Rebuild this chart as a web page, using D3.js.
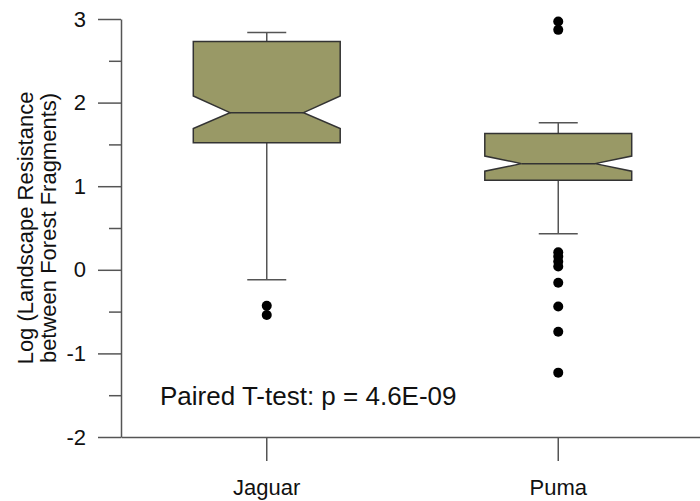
<!DOCTYPE html>
<html>
<head>
<meta charset="utf-8">
<script src="https://cdn.jsdelivr.net/npm/d3@7"></script>
<style>
html,body{margin:0;padding:0;background:#fff;}
svg{display:block;font-family:"Liberation Sans",Arial,sans-serif;}
</style>
</head>
<body>
<svg id="chart" width="700" height="501"></svg>
<script>
// ---- data ----
const categories   = ["Jaguar", "Puma"];
const whiskerHigh  = [2.84, 1.76];
const q3           = [2.73, 1.63];
const notchHigh    = [2.08, 1.36];
const median       = [1.88, 1.27];
const notchLow     = [1.69, 1.18];
const q1           = [1.52, 1.07];
const whiskerLow   = [-0.12, 0.43];
const outliersJaguar = [-0.43, -0.54];
const outliersPuma   = [2.97, 2.87, 0.21, 0.16, 0.10, 0.04, -0.155, -0.44, -0.74, -1.23];
const yTicks      = [-2, -1, 0, 1, 2, 3];
const yTickLabels = ["-2", "-1", "0", "1", "2", "3"];
const yMinorTicks = [-1.5, -0.5, 0.5, 1.5, 2.5];
const annotation  = "Paired T-test: p = 4.6E-09";
const yTitle      = ["Log (Landscape Resistance", "between Forest Fragments)"];

const outliers = [outliersJaguar, outliersPuma];

// ---- scales ----
const svg = d3.select("#chart");
const y = d3.scaleLinear().domain([-2, 3]).range([437, 19]);
const x = d3.scaleBand().domain(categories).range([121, 704]).padding(0);
const cx = c => x(c) + x.bandwidth() / 2;
const boxHalf = x.bandwidth() * 0.252;
const notchHalf = boxHalf * 0.5;
const capHalf = 19.5;

const axisColor = "#555";

// ---- axes ----
const yMinor = svg.append("g").attr("transform", "translate(121,0)")
  .call(d3.axisLeft(y).tickValues(yMinorTicks).tickSize(12).tickSizeOuter(0).tickFormat(""));
yMinor.select(".domain").remove();
yMinor.selectAll("line").attr("stroke", axisColor).attr("stroke-width", 1.5);

const yAxis = svg.append("g").attr("transform", "translate(121,0)")
  .call(d3.axisLeft(y).tickValues(yTicks).tickSize(23).tickSizeOuter(0).tickPadding(12)
    .tickFormat((d, i) => yTickLabels[i]));
yAxis.select(".domain").attr("stroke", axisColor).attr("stroke-width", 1.5);
yAxis.selectAll("line").attr("stroke", axisColor).attr("stroke-width", 1.5);
yAxis.selectAll("text").attr("font-size", 22).attr("fill", "#111")
  .attr("font-family", "Liberation Sans, Arial, sans-serif");

const xAxis = svg.append("g").attr("transform", "translate(0,437)")
  .call(d3.axisBottom(x).tickSize(24).tickSizeOuter(0).tickPadding(18));
xAxis.select(".domain").attr("stroke", axisColor).attr("stroke-width", 1.5);
xAxis.selectAll("line").attr("stroke", axisColor).attr("stroke-width", 1.5);
xAxis.selectAll("text").attr("font-size", 22).attr("fill", "#111")
  .attr("font-family", "Liberation Sans, Arial, sans-serif");

// ---- y title ----
const yt = svg.append("text")
  .attr("transform", "translate(0,228) rotate(-90)")
  .attr("text-anchor", "middle")
  .attr("font-size", 22).attr("fill", "#111");
yt.selectAll("tspan").data(yTitle).join("tspan")
  .attr("x", 0).attr("y", (d, i) => 33 + i * 23)
  .text(d => d);

// ---- boxes ----
categories.forEach((c, i) => {
  const m = cx(c);
  const g = svg.append("g");
  // whiskers
  g.append("line").attr("x1", m).attr("x2", m).attr("y1", y(q3[i])).attr("y2", y(whiskerHigh[i]))
    .attr("stroke", axisColor).attr("stroke-width", 1.5);
  g.append("line").attr("x1", m).attr("x2", m).attr("y1", y(q1[i])).attr("y2", y(whiskerLow[i]))
    .attr("stroke", axisColor).attr("stroke-width", 1.5);
  [whiskerHigh[i], whiskerLow[i]].forEach(v => {
    g.append("line").attr("x1", m - capHalf).attr("x2", m + capHalf).attr("y1", y(v)).attr("y2", y(v))
      .attr("stroke", axisColor).attr("stroke-width", 1.5);
  });
  // notched box
  const L = m - boxHalf, R = m + boxHalf, NL = m - notchHalf, NR = m + notchHalf;
  const pts = [
    [L, y(q3[i])], [R, y(q3[i])], [R, y(notchHigh[i])], [NR, y(median[i])],
    [R, y(notchLow[i])], [R, y(q1[i])], [L, y(q1[i])], [L, y(notchLow[i])],
    [NL, y(median[i])], [L, y(notchHigh[i])]
  ];
  g.append("path").attr("d", d3.line()(pts) + "Z")
    .attr("fill", "#999966").attr("stroke", "#333").attr("stroke-width", 1.5);
  g.append("line").attr("x1", NL).attr("x2", NR).attr("y1", y(median[i])).attr("y2", y(median[i]))
    .attr("stroke", "#333").attr("stroke-width", 1.5);
  // outliers
  g.selectAll("circle").data(outliers[i]).join("circle")
    .attr("cx", m).attr("cy", d => y(d)).attr("r", 5).attr("fill", "#000");
});

// ---- annotation ----
svg.append("text").attr("x", 160).attr("y", 405)
  .attr("font-size", 26).attr("fill", "#111").text(annotation);
</script>
</body>
</html>
